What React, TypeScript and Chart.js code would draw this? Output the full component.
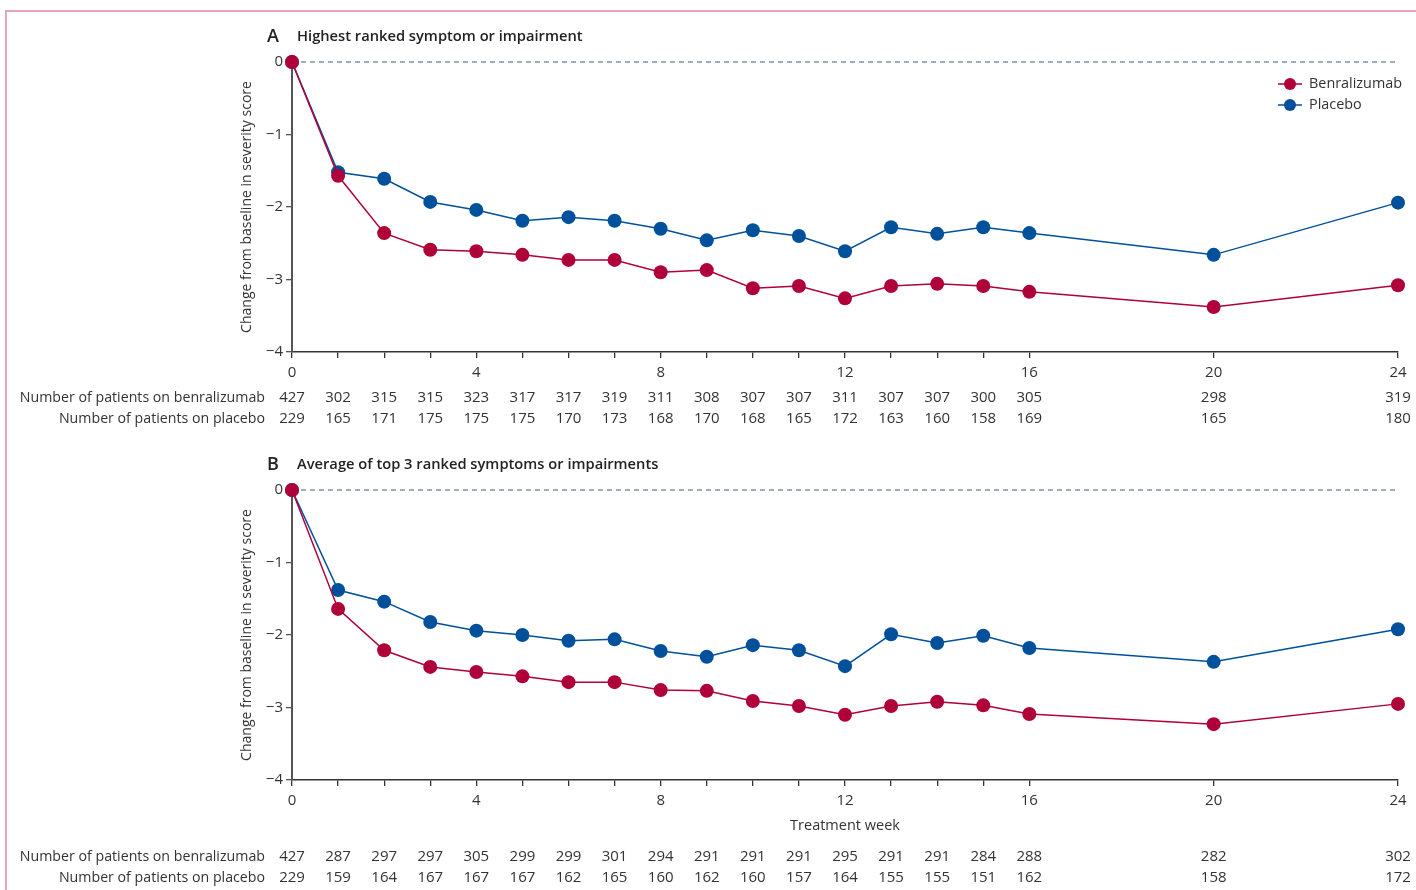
import React, { useEffect, useRef } from "react";
import { Chart, registerables } from "chart.js";

Chart.register(...registerables);

// ---------- data ----------
const weeks = [0, 1, 2, 3, 4, 5, 6, 7, 8, 9, 10, 11, 12, 13, 14, 15, 16, 20, 24];
const xTickWeeks = [0, 1, 2, 3, 4, 5, 6, 7, 8, 9, 10, 11, 12, 13, 14, 15, 16, 20, 24];
const yTickValues = [0, -1, -2, -3, -4];

const benraA = [0, -1.57, -2.36, -2.59, -2.61, -2.66, -2.73, -2.73, -2.9, -2.87, -3.12, -3.09, -3.26, -3.09, -3.06, -3.09, -3.17, -3.38, -3.08];
const placeboA = [0, -1.52, -1.61, -1.93, -2.04, -2.19, -2.14, -2.19, -2.3, -2.46, -2.32, -2.4, -2.61, -2.28, -2.37, -2.28, -2.36, -2.66, -1.94];

const benraB = [0, -1.64, -2.21, -2.44, -2.51, -2.57, -2.65, -2.65, -2.76, -2.77, -2.91, -2.98, -3.1, -2.98, -2.92, -2.97, -3.09, -3.23, -2.95];
const placeboB = [0, -1.38, -1.54, -1.82, -1.94, -2.0, -2.08, -2.06, -2.22, -2.3, -2.14, -2.21, -2.43, -1.99, -2.11, -2.01, -2.18, -2.37, -1.92];

const nBenraA = [427, 302, 315, 315, 323, 317, 317, 319, 311, 308, 307, 307, 311, 307, 307, 300, 305, 298, 319];
const nPlaceboA = [229, 165, 171, 175, 175, 175, 170, 173, 168, 170, 168, 165, 172, 163, 160, 158, 169, 165, 180];
const nBenraB = [427, 287, 297, 297, 305, 299, 299, 301, 294, 291, 291, 291, 295, 291, 291, 284, 288, 282, 302];
const nPlaceboB = [229, 159, 164, 167, 167, 167, 162, 165, 160, 162, 160, 157, 164, 155, 155, 151, 162, 158, 172];

const seriesNames = ["Benralizumab", "Placebo"];
const rowLabels = ["Number of patients on benralizumab", "Number of patients on placebo"];
const yAxisTitle = "Change from baseline in severity score";
const xAxisTitle = "Treatment week";

// ---------- styles ----------
const RED = "#b0003a";
const BLUE = "#00509b";
const TEXT = "#333333";
const FAMILY = '"Open Sans", "DejaVu Sans", sans-serif';
const W = 1416;
const H = 445;

type PanelCfg = {
  letter: string;
  title: string;
  benra: number[];
  placebo: number[];
  nBenra: number[];
  nPlacebo: number[];
  topPad: number;
  xH: number;
  titleY: number;
  rowY: [number, number];
  showLegend: boolean;
  showXTitle: boolean;
  xTitleY: number;
};

function font(size: number, weight = "normal") {
  return `${weight} ${size}px ${FAMILY}`;
}

function makeOverlay(cfg: PanelCfg) {
  return {
    id: "overlay" + cfg.letter,
    beforeDatasetsDraw(chart: any) {
      const { ctx, chartArea, scales } = chart;
      const y0 = scales.y.getPixelForValue(0);
      ctx.save();
      ctx.strokeStyle = "#3a5f76";
      ctx.lineWidth = 1.2;
      ctx.setLineDash([5, 4]);
      ctx.beginPath();
      ctx.moveTo(chartArea.left, y0);
      ctx.lineTo(chartArea.right, y0);
      ctx.stroke();
      ctx.restore();
    },
    afterDraw(chart: any) {
      const { ctx, chartArea, scales } = chart;
      ctx.save();
      ctx.fillStyle = "#222";
      // panel letter + title
      ctx.textBaseline = "middle";
      ctx.textAlign = "left";
      ctx.font = font(18, "600");
      ctx.fillText(cfg.letter, 267, cfg.titleY);
      ctx.font = font(14.7, "600");
      ctx.fillText(cfg.title, 297, cfg.titleY);

      // y axis title
      ctx.fillStyle = TEXT;
      ctx.font = font(14);
      ctx.save();
      ctx.translate(247, (chartArea.top + chartArea.bottom) / 2);
      ctx.rotate(-Math.PI / 2);
      ctx.textAlign = "center";
      ctx.fillText(yAxisTitle, 0, 0);
      ctx.restore();

      // x axis title
      if (cfg.showXTitle) {
        ctx.textAlign = "center";
        ctx.font = font(14.5);
        ctx.fillText(xAxisTitle, (chartArea.left + chartArea.right) / 2, cfg.xTitleY);
      }

      // table
      ctx.font = font(14.2);
      ctx.textAlign = "right";
      ctx.fillText(rowLabels[0], 265, cfg.rowY[0]);
      ctx.fillText(rowLabels[1], 265, cfg.rowY[1]);
      ctx.font = font(15);
      ctx.textAlign = "center";
      weeks.forEach((w, i) => {
        const x = scales.x.getPixelForValue(w);
        ctx.fillText(String(cfg.nBenra[i]), x, cfg.rowY[0]);
        ctx.fillText(String(cfg.nPlacebo[i]), x, cfg.rowY[1]);
      });

      // legend
      if (cfg.showLegend) {
        const items = [
          { name: seriesNames[0], color: RED, y: 84 },
          { name: seriesNames[1], color: BLUE, y: 105 },
        ];
        items.forEach((it) => {
          ctx.strokeStyle = it.color;
          ctx.lineWidth = 1.5;
          ctx.beginPath();
          ctx.moveTo(1278, it.y);
          ctx.lineTo(1302, it.y);
          ctx.stroke();
          ctx.fillStyle = it.color;
          ctx.beginPath();
          ctx.arc(1290, it.y, 6, 0, Math.PI * 2);
          ctx.fill();
          ctx.fillStyle = TEXT;
          ctx.textAlign = "left";
          ctx.font = font(14.4);
          ctx.fillText(it.name, 1309, it.y);
        });
      }
      ctx.restore();
    },
  };
}

function buildConfig(cfg: PanelCfg): any {
  const toPts = (arr: number[]) => weeks.map((w, i) => ({ x: w, y: arr[i] }));
  return {
    type: "line",
    data: {
      datasets: [
        {
          label: seriesNames[0],
          data: toPts(cfg.benra),
          borderColor: RED,
          backgroundColor: RED,
          pointBackgroundColor: RED,
          pointBorderColor: RED,
          borderWidth: 1.5,
          pointRadius: 7,
          pointBorderWidth: 0,
          tension: 0,
          clip: false,
        },
        {
          label: seriesNames[1],
          data: toPts(cfg.placebo),
          borderColor: BLUE,
          backgroundColor: BLUE,
          pointBackgroundColor: BLUE,
          pointBorderColor: BLUE,
          borderWidth: 1.5,
          pointRadius: 7,
          pointBorderWidth: 0,
          tension: 0,
          clip: false,
        },
      ],
    },
    options: {
      responsive: false,
      animation: false,
      events: [],
      layout: { padding: { left: 0, right: 18, top: cfg.topPad, bottom: 0 } },
      plugins: { legend: { display: false }, tooltip: { enabled: false } },
      scales: {
        x: {
          type: "linear",
          min: 0,
          max: 24,
          afterBuildTicks: (s: any) => {
            s.ticks = xTickWeeks.map((v) => ({ value: v }));
          },
          afterFit: (s: any) => {
            s.height = cfg.xH;
          },
          ticks: {
            autoSkip: false,
            maxRotation: 0,
            padding: 6,
            color: TEXT,
            font: { family: FAMILY, size: 15 },
            callback: (v: any) => (Number(v) % 4 === 0 ? String(v) : ""),
          },
          grid: { drawOnChartArea: false, drawTicks: true, tickLength: 6, color: "#333", lineWidth: 1.3 },
          border: { display: true, color: "#333", width: 1.5 },
        },
        y: {
          type: "linear",
          min: -4,
          max: 0,
          afterBuildTicks: (s: any) => {
            s.ticks = yTickValues.map((v) => ({ value: v }));
          },
          afterFit: (s: any) => {
            s.width = 292;
          },
          ticks: {
            padding: 3,
            color: TEXT,
            font: { family: FAMILY, size: 15 },
            callback: (v: any) => (Number(v) === 0 ? "0" : "\u2212" + Math.abs(Number(v))),
          },
          grid: { drawOnChartArea: false, drawTicks: true, tickLength: 6, color: "#555", lineWidth: 1.3 },
          border: { display: true, color: "#555", width: 2 },
        },
      },
    },
    plugins: [makeOverlay(cfg)],
  };
}

const panelA: PanelCfg = {
  letter: "A",
  title: "Highest ranked symptom or impairment",
  benra: benraA,
  placebo: placeboA,
  nBenra: nBenraA,
  nPlacebo: nPlaceboA,
  topPad: 62,
  xH: H - 352,
  titleY: 37,
  rowY: [398, 419],
  showLegend: true,
  showXTitle: false,
  xTitleY: 0,
};

const panelB: PanelCfg = {
  letter: "B",
  title: "Average of top 3 ranked symptoms or impairments",
  benra: benraB,
  placebo: placeboB,
  nBenra: nBenraB,
  nPlacebo: nPlaceboB,
  topPad: 490 - H,
  xH: H - (780 - H),
  titleY: 465 - H,
  rowY: [857 - H, 878 - H],
  showLegend: false,
  showXTitle: true,
  xTitleY: 826 - H,
};

function Panel({ cfg, top }: { cfg: PanelCfg; top: number }) {
  const ref = useRef<HTMLCanvasElement | null>(null);
  useEffect(() => {
    if (!ref.current) return;
    const chart = new Chart(ref.current, buildConfig(cfg));
    return () => chart.destroy();
  }, [cfg]);
  return (
    <canvas
      ref={ref}
      width={W}
      height={H}
      style={{ position: "absolute", left: 0, top, width: W, height: H }}
    />
  );
}

export default function App() {
  return (
    <div
      style={{
        position: "absolute",
        left: 0,
        top: 0,
        width: W,
        height: 890,
        overflow: "hidden",
        background: "#fff",
      }}
    >
      <div
        style={{
          position: "absolute",
          left: 5,
          top: 10,
          width: 1500,
          height: 1000,
          borderLeft: "2px solid #e6a6ba",
          borderTop: "2px solid #e6a6ba",
        }}
      />
      <Panel cfg={panelA} top={0} />
      <Panel cfg={panelB} top={H} />
    </div>
  );
}
